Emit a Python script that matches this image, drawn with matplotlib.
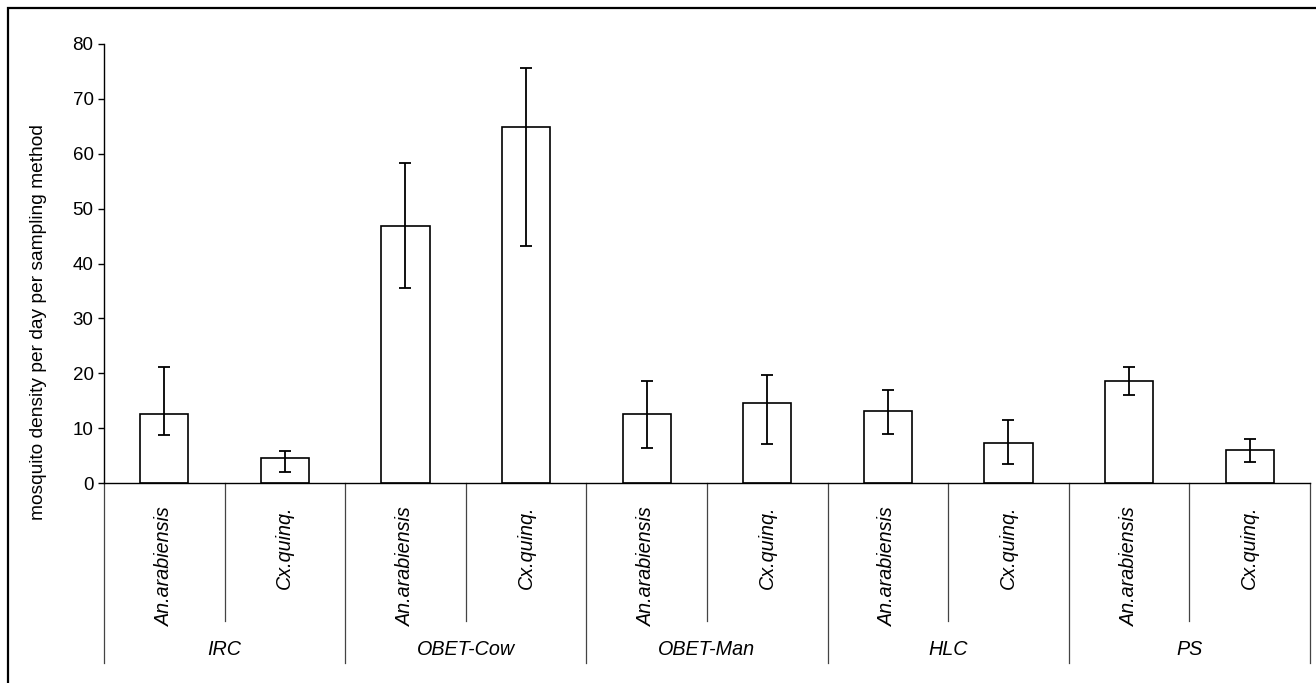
import matplotlib.pyplot as plt
import matplotlib.transforms as mtransforms
from matplotlib.patches import Rectangle
import numpy as np

plt.rcParams['font.family'] = ['Liberation Sans', 'DejaVu Sans']

# sampling methods and species
methods = ['IRC', 'OBET-Cow', 'OBET-Man', 'HLC', 'PS']
species = ['An.arabiensis', 'Cx.quinq.']

# mean density per bar (method x species, in order)
means = [12.5, 4.5, 46.8, 64.9, 12.6, 14.5, 13.1, 7.3, 18.6, 6.1]
err_low = [8.7, 2.0, 35.5, 43.2, 6.4, 7.1, 8.9, 3.4, 16.0, 3.8]
err_high = [21.2, 5.8, 58.4, 75.7, 18.6, 19.7, 17.0, 11.5, 21.2, 8.0]

means = np.array(means)
yerr = np.array([means - np.array(err_low), np.array(err_high) - means])
x = np.arange(len(means))

fig = plt.figure(figsize=(13.16, 6.83), dpi=100)
ax = fig.add_axes([0.0790, 0.2928, 0.9164, 0.6428])

ax.bar(x, means, width=0.4, color='white', edgecolor='black', linewidth=1.2, zorder=2)
ax.errorbar(x, means, yerr=yerr, fmt='none', ecolor='black', elinewidth=1.3,
            capsize=4.5, capthick=1.3, zorder=3)

ax.set_xlim(-0.5, len(means) - 0.5)
ax.set_ylim(0, 80)
ax.set_yticks(range(0, 81, 10))
ax.tick_params(axis='y', labelsize=13.5, direction='out', length=4, width=1)
ax.set_xticks([])
ax.spines['top'].set_visible(False)
ax.spines['right'].set_visible(False)
ax.spines['left'].set_linewidth(1)
ax.spines['bottom'].set_linewidth(1)
ax.set_ylabel('mosquito density per day per sampling method', fontsize=13.8)
ax.yaxis.set_label_coords(-0.047, 0.367)

# two-level category axis drawn below the plot
trans = mtransforms.blended_transform_factory(ax.transData, ax.transAxes)
for i in range(len(means) + 1):
    xb = i - 0.5
    bottom = -0.41 if i % 2 == 0 else -0.314
    ax.plot([xb, xb], [0, bottom], color='#444444', lw=0.9, transform=trans, clip_on=False)

for i, v in enumerate(means):
    ax.text(i, -0.052, species[i % 2], rotation=90, ha='center', va='top',
            fontsize=14.2, style='italic', transform=trans)

for j, m in enumerate(methods):
    ax.text(2 * j + 0.5, -0.38, m, ha='center', va='center',
            fontsize=14.2, style='italic', transform=trans)

# outer frame
fig.patches.append(Rectangle((8 / 1316, -0.1), 1.2, 1 - 8 / 683 + 0.1,
                             transform=fig.transFigure, fill=False,
                             edgecolor='black', linewidth=1.6))

fig.savefig('out.png', dpi=100)
